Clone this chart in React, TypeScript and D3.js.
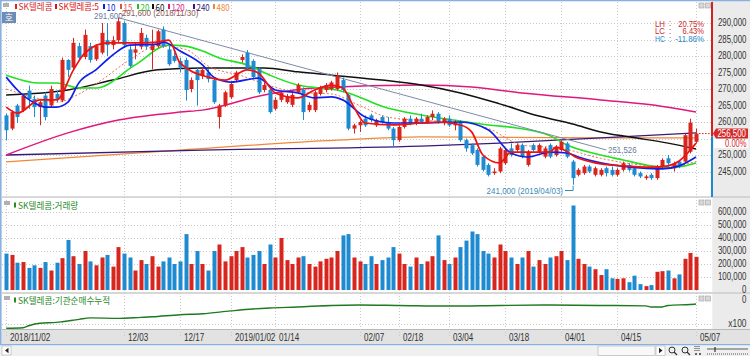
import React from "react";
import * as d3 from "d3";

// ---------- DATA (prices in thousand KRW, volume in thousand shares) ----------
const opens = [262.0,258.0,265.0,263.5,269.5,267.0,264.5,268.0,265.0,268.5,
266.5,278.8,276.5,283.0,279.7,283.0,279.0,281.0,284.8,283.3,
284.8,290.0,282.0,281.0,282.8,285.5,281.8,283.0,288.0,282.0,
280.0,278.5,278.8,270.0,275.8,274.0,275.0,272.7,261.5,265.0,
267.5,272.7,278.8,281.0,278.5,276.0,269.7,269.7,264.0,266.7,
266.0,265.2,269.0,269.7,263.6,263.6,268.5,269.7,270.0,270.0,
272.7,268.2,258.0,259.0,261.0,262.0,259.0,261.5,260.0,258.0,
254.5,258.5,261.0,259.5,261.0,260.0,261.5,262.5,260.0,261.0,
259.0,260.0,254.5,253.0,251.5,249.5,247.0,244.5,245.0,247.5,
252.0,251.5,253.0,247.0,253.0,251.0,249.5,253.0,250.0,251.5,
253.5,248.0,244.0,244.5,246.5,244.0,244.0,246.0,245.5,244.0,
245.5,247.0,246.0,244.5,243.0,244.0,243.0,246.5,249.0,246.0,
248.0,248.0,251.0,254.0];
const highs = [262.5,263.5,265.5,268.5,271.0,268.0,266.5,269.0,271.0,269.5,
279.5,279.0,285.5,284.0,288.0,284.0,283.5,290.0,290.0,286.0,
291.6,290.5,283.0,284.0,288.5,286.5,288.0,288.0,289.0,283.0,
281.0,279.5,279.5,273.5,276.5,276.5,276.0,273.5,265.5,269.5,
272.0,275.5,280.5,281.8,279.0,276.5,272.0,270.5,267.5,269.5,
268.5,268.8,271.8,270.5,266.0,269.5,271.0,271.8,272.5,275.0,
273.5,268.5,259.5,260.5,262.0,262.5,261.0,262.0,261.5,258.5,
259.0,261.5,262.0,261.5,262.5,262.0,263.5,263.0,261.5,262.0,
260.5,260.5,255.0,253.5,252.0,250.0,247.5,246.0,252.5,252.0,
253.5,253.5,253.5,251.5,253.5,253.5,252.5,253.5,253.0,254.5,
254.0,248.5,246.0,247.0,247.0,246.5,246.0,246.5,246.5,246.0,
248.0,247.5,246.5,245.0,244.0,244.5,247.0,249.0,250.0,248.0,
248.5,256.5,261.0,258.0];
const lows = [254.5,257.5,259.7,263.0,264.0,261.5,259.0,260.5,264.5,266.0,
266.0,273.6,276.0,279.0,279.0,278.0,278.5,280.5,280.0,282.0,
284.0,283.0,276.5,279.0,282.0,282.0,276.0,282.5,282.5,277.0,
278.0,275.0,266.5,269.0,265.0,273.0,272.0,265.5,258.0,264.5,
267.0,272.0,278.0,276.0,273.0,268.5,269.0,262.5,263.5,266.0,
265.5,264.5,268.5,260.6,263.0,263.0,268.0,269.0,269.5,269.5,
269.0,257.5,256.5,257.0,258.5,260.0,258.5,259.5,257.5,252.5,
254.0,258.0,259.0,259.0,259.5,259.5,260.5,259.5,259.0,258.5,
257.5,254.0,251.0,250.0,246.5,245.0,243.5,244.0,244.5,247.0,
249.5,251.0,249.0,246.5,251.0,250.5,249.0,249.0,249.5,251.0,
249.0,241.0,243.5,244.0,244.5,243.5,243.5,243.5,243.5,243.5,
245.0,245.0,243.5,243.0,242.5,242.5,242.5,246.0,247.0,245.0,
246.0,247.5,250.5,253.5];
const closes = [257.5,263.0,261.5,268.0,267.0,264.5,266.0,261.5,270.0,267.0,
278.8,275.8,284.0,279.5,286.4,278.8,283.0,287.0,283.3,284.8,
290.5,283.3,277.0,282.0,287.0,282.8,283.3,287.5,283.0,277.5,
278.5,276.5,269.7,272.7,272.7,275.8,273.0,266.0,265.0,269.0,
271.5,275.0,279.7,276.3,273.6,269.0,271.2,263.0,266.7,268.8,
267.8,268.2,271.2,263.0,265.2,269.0,270.5,271.2,272.0,274.0,
269.7,258.0,259.0,260.0,259.0,260.6,260.6,260.0,258.0,254.5,
258.5,261.0,259.5,261.0,260.0,261.5,262.5,260.0,261.0,259.0,
260.0,254.5,252.0,250.5,247.0,245.5,244.0,245.0,252.0,251.5,
250.0,253.0,249.5,251.0,251.5,253.0,252.0,249.5,252.5,254.0,
249.5,243.0,245.5,246.5,245.0,246.0,245.5,244.5,244.0,245.5,
247.5,245.5,244.0,243.5,243.5,243.0,246.5,248.5,247.5,247.5,
246.5,256.0,259.8,256.5];
const volumes = [280,270,210,215,170,190,170,215,150,210,
245,385,260,200,300,220,190,250,270,180,
330,280,250,150,230,200,260,180,220,250,
200,220,430,200,300,200,150,300,350,220,
260,300,330,250,270,300,200,350,250,400,
230,200,250,260,200,180,220,240,250,300,
420,430,250,220,200,260,200,230,250,330,
280,200,180,250,200,220,260,420,230,200,
250,330,380,450,430,300,280,250,350,300,
250,200,250,300,180,230,200,250,260,300,
230,650,240,200,180,160,115,160,90,85,
90,60,110,45,30,38,140,145,150,90,
120,240,285,255];

// moving averages: [candle index, price]
const ma5: [number, number][] = [[0,264.5],[2,262.7],[6,266.7],[9,266.7],[12,275.8],[14,280.9],[18,284],[24,284],[27,284.2],[29,284.8],[31,277.9],[36,273.6],[39,272.7],[43,275.8],[45,274.8],[48,268.8],[52,267.3],[55,269.7],[58,271.2],[60,270.3],[62,264.5],[64,259.7],[69,259.1],[74,259.7],[77,260],[81,259.1],[83,257.0],[85,250],[88,247.6],[90,250.9],[97,250.9],[98,252.4],[102,249],[105,247.6],[110,246.7],[115,246.3],[118,246.7],[120,248.2],[122,251.5],[123,253.6]];
const ma10: [number, number][] = [[0,273.6],[2,269.7],[5,265.8],[7,264.5],[9,264.5],[11,266.0],[13,272.0],[16,275.8],[19,280.3],[22,283.3],[27,283.6],[28,284.2],[31,281.5],[35,277.3],[37,273.6],[40,272.1],[45,273.3],[48,269.7],[52,268.8],[55,267.3],[58,267.6],[60,266.7],[64,261.5],[69,259.7],[74,259.7],[81,260.0],[86,257.6],[90,250.6],[93,249.4],[97,250.9],[100,250.6],[102,249.4],[106,247.6],[113,246.1],[117,245.8],[120,246.7],[123,249.4]];
const ma15: [number, number][] = [[0,270],[6,267],[9,266],[13,268.5],[17,272.7],[22,278.8],[27,283],[32,282],[36,277],[42,274],[47,271],[52,269],[58,268.5],[63,265],[68,261.5],[74,260.5],[81,260],[86,258],[92,253],[99,252],[106,249],[113,247],[118,246.5],[123,248]];
const ma20: [number, number][] = [[0,274.2],[6,271.8],[9,271.8],[13,270.3],[16,270.3],[23,277.3],[29,283.3],[32,283.0],[35,281.5],[38,279.4],[43,277.3],[47,274.2],[52,271.2],[56,270.3],[59,269.7],[62,268.2],[67,264.8],[74,262.1],[81,260.3],[86,259.1],[91,258.2],[97,255.8],[100,253.0],[106,250.0],[110,248.5],[115,246.7],[118,246.1],[121,246.7],[123,247.6]];
const ma60: [number, number][] = [[0,268.2],[11,269.7],[19,272.7],[27,275.8],[35,276.4],[46,276.4],[52,275.2],[58,274.2],[67,272.7],[74,271.2],[81,268.8],[88,265.5],[95,261.8],[101,259.4],[106,257.0],[111,255.5],[118,253.6],[123,251.8]];
const ma120: [number, number][] = [[0,250.0],[11,256.7],[20,260.6],[31,263.0],[35,263.6],[46,268.2],[55,270.3],[74,271.2],[83,270.6],[92,268.8],[106,266.7],[115,265.2],[123,263.0]];
const ma240: [number, number][] = [[0,250.0],[35,251.5],[74,252.7],[88,253.6],[106,255.2],[123,256.7]];
const ma480: [number, number][] = [[0,247.9],[31,251.5],[59,254.5],[74,255.5],[106,255.2],[123,255.2]];

// institutional cumulative net buying (x100 shares)
const inst: [number, number][] = [[0,-1010],[3,-990],[4,-920],[6,-830],[9,-800],[10,-775],[13,-690],[15,-640],[20,-655],[24,-620],[26,-600],[31,-525],[35,-490],[40,-390],[44,-320],[47,-285],[52,-250],[58,-195],[63,-180],[70,-195],[79,-215],[88,-195],[97,-180],[106,-195],[114,-210],[115,-250],[117,-250],[118,-195],[122,-160],[123,-145]];

const tickIdx = [0,21,31,40,48,63,70,79,89,99,109,123];
const tickLabels = ["2018/11/02","12/03","12/17","2019/01/02","01/14","02/07","02/18","03/04","03/18","04/01","04/15","05/07"];
const priceTicks = [290,285,280,275,270,265,260,255,250,245];
const priceLabelTicks = [290,285,280,275,270,265,260,250,245];
const volTicks = [600,500,400,300,200,100,0];

const trend: [number, number][] = [[20,291.6],[107,251.526]];
const lastPrice = 256.5;
const legend = [
  { t: "SK텔레콤", c: "#d8261f" },
  { t: "SK텔레콤:5", c: "#e01010" },
  { t: "10", c: "#1020e0" },
  { t: "15", c: "#e05040" },
  { t: "20", c: "#22c022" },
  { t: "60", c: "#111111" },
  { t: "120", c: "#e0187c" },
  { t: "240", c: "#3a1a78" },
  { t: "480", c: "#f08838" },
];
const legendX = [15, 55, 103, 120, 137, 152, 168, 193, 213];

const UP = "#d8261f";
const DN = "#1e8bd1";
const F_NUM = "'Liberation Sans', Arial, sans-serif";
const F_KR = "'Noto Sans CJK KR', 'Noto Sans', sans-serif";

function textW(s: string): number {
  let w = 0;
  for (const ch of s) {
    if (/[0-9]/.test(ch)) w += 4.4;
    else if (ch === "," || ch === "." || ch === ":") w += 2.2;
    else if (ch === "/" || ch === "(" || ch === ")") w += 2.6;
    else if (ch === "%") w += 6;
    else if (ch === " ") w += 2.4;
    else if (ch === "-") w += 3;
    else if (/[A-Za-z]/.test(ch)) w += 5;
    else w += 8;
  }
  return w;
}

let _ctx: CanvasRenderingContext2D | null = null;
function measure(s: string, size: number, font: string): number {
  if (!_ctx) _ctx = document.createElement("canvas").getContext("2d");
  if (!_ctx) return textW(s);
  _ctx.font = `${size}px ${font}`;
  return _ctx.measureText(s).width || textW(s);
}

function T(p: { x: number; y: number; s: string; fill?: string; anchor?: string; size?: number; font?: string }) {
  const size = p.size ?? 10;
  const font = p.font ?? F_NUM;
  const target = textW(p.s);
  const nat = measure(p.s, size, font);
  const sx = Math.min(1.2, target / nat);
  return (
    <text transform={`translate(${p.x},${p.y}) scale(${sx.toFixed(3)},1)`} x={0} y={0} fill={p.fill ?? "#333"} fontSize={size} fontFamily={font}
      textAnchor={(p.anchor as any) ?? "start"} dominantBaseline="central">{p.s}</text>
  );
}

const fmt = (v: number) => d3.format(",")(Math.round(v * 1000));

export default function App() {
  const x = d3.scaleLinear().domain([0, 123]).range([6.2, 696]);
  const yP = d3.scaleLinear().domain([245, 290]).range([171.5, 23]);
  const yV = d3.scaleLinear().domain([0, 600]).range([290, 212]);
  const yI = d3.scaleLinear().domain([-1000, 0]).range([328, 300]);
  const pLine = (pts: [number, number][]) =>
    d3.line<[number, number]>().x((d) => x(d[0])).y((d) => yP(d[1])).curve(d3.curveMonotoneX)(pts) || "";
  const iLine =
    d3.line<[number, number]>().x((d) => x(d[0])).y((d) => yI(d[1])).curve(d3.curveMonotoneX)(inst) || "";

  const PX0 = 2, PX1 = 712;
  const grid = "#c8c8c8";
  const yLast = yP(lastPrice);

  const btns = (y: number) => (
    <g>
      <rect x={699} y={y} width={5} height={5} fill="#d8d8d8" stroke="#a0a0a0" strokeWidth={0.6} />
      <rect x={705.5} y={y} width={5} height={5} fill="#d8d8d8" stroke="#a0a0a0" strokeWidth={0.6} />
    </g>
  );

  const lo = lows[101];

  return (
    <svg width={750} height={356} style={{ position: "fixed", left: 0, top: 0, background: "#f0f0f0" }}>
      <defs>
        <clipPath id="pc"><rect x={PX0} y={2} width={PX1 - PX0} height={194} /></clipPath>
        <clipPath id="vc"><rect x={PX0} y={198} width={PX1 - PX0} height={94} /></clipPath>
      </defs>
      {/* frame */}
      <rect x={0} y={0} width={750} height={356} fill="#f0f0f0" />
      <rect x={0} y={0} width={750} height={1.5} fill="#86b1e0" />
      <rect x={0} y={0} width={1.5} height={345} fill="#86b1e0" />
      <rect x={713} y={1.5} width={37} height={328} fill="#ebebeb" />
      <rect x={PX0} y={1.5} width={PX1 - PX0} height={195} fill="#fff" />
      <rect x={PX0} y={198} width={PX1 - PX0} height={94} fill="#fff" />
      <rect x={PX0} y={294} width={PX1 - PX0} height={35} fill="#fff" />
      <line x1={PX0} x2={750} y1={197} y2={197} stroke="#bdbdbd" />
      <line x1={PX0} x2={750} y1={293} y2={293} stroke="#bdbdbd" />
      <rect x={PX0} y={329} width={748} height={15} fill="#e2e2e2" />
      <line x1={PX0} x2={750} y1={329.5} y2={329.5} stroke="#b8b8b8" />
      <rect x={0} y={344} width={750} height={1.2} fill="#86b1e0" />

      {/* grid */}
      {tickIdx.map((t, k) => (
        <line key={"vg" + k} x1={Math.round(x(t)) + 0.5} x2={Math.round(x(t)) + 0.5} y1={2} y2={337} stroke={grid} strokeDasharray="1,2" />
      ))}
      {priceTicks.map((p) => (
        <line key={"pg" + p} x1={PX0} x2={PX1} y1={Math.round(yP(p)) + 0.5} y2={Math.round(yP(p)) + 0.5} stroke={grid} strokeDasharray="1,2" />
      ))}
      {volTicks.slice(0, 6).map((v) => (
        <line key={"vgl" + v} x1={PX0} x2={PX1} y1={Math.round(yV(v)) + 0.5} y2={Math.round(yV(v)) + 0.5} stroke={grid} strokeDasharray="1,2" />
      ))}
      <line x1={PX0} x2={PX1} y1={324.5} y2={324.5} stroke={grid} strokeDasharray="1,2" />

      {/* price panel */}
      <g clipPath="url(#pc)">
        {[
          { d: ma480, c: "#f08838", w: 1.3 },
          { d: ma240, c: "#3a1a78", w: 1.3 },
          { d: ma120, c: "#e0187c", w: 1.5 },
          { d: ma60, c: "#111", w: 1.5 },
          { d: ma20, c: "#22e022", w: 1.6 },
        ].map((m, k) => (
          <path key={"ma" + k} d={pLine(m.d)} fill="none" stroke={m.c} strokeWidth={m.w} />
        ))}
        <path d={pLine(ma15)} fill="none" stroke="#f07050" strokeWidth={1} strokeDasharray="2,2" />
        <path d={pLine(trend)} fill="none" stroke="#7d8aa8" strokeWidth={1} />
        {closes.map((c, i) => {
          const o = opens[i];
          const up = c >= o;
          const col = up ? UP : DN;
          const cx = Math.round(x(i)) + 0.5;
          const top = yP(Math.max(o, c));
          const bot = yP(Math.min(o, c));
          return (
            <g key={"c" + i}>
              <line x1={cx} x2={cx} y1={yP(highs[i])} y2={yP(lows[i])} stroke={col} strokeWidth={1} />
              <rect x={cx - 2} y={top} width={4} height={Math.max(1, bot - top)} fill={col} />
            </g>
          );
        })}
        <path d={pLine(ma10)} fill="none" stroke="#1020e8" strokeWidth={1.7} />
        <path d={pLine(ma5)} fill="none" stroke="#f01010" strokeWidth={1.7} />
        <line x1={x(123) + 3} x2={PX1} y1={yLast} y2={yLast} stroke="#e02020" strokeDasharray="1.5,1.5" />
        {/* low marker */}
        <line x1={x(101) + 0.5} x2={x(101) + 0.5} y1={yP(lo) + 1} y2={190.5} stroke="#3a8ab8" />
        <line x1={565} x2={x(101) + 0.5} y1={190.5} y2={190.5} stroke="#3a8ab8" />
      </g>
      <T x={563} y={190.5} s={"241,000 (2019/04/03)"} fill="#3a8ab8" anchor="end" size={9.5} />
      <T x={608} y={yP(trend[1][1])} s={"251,526"} fill="#6a7aa0" size={9.5} />
      <T x={94} y={16} s={"291,600"} fill="#6a7aa0" size={9.5} />
      <T x={119} y={12.5} s={"-291,600 (2018/11/30)"} fill="#8a5a5a" size={9.5} />

      {/* legend */}
      <rect x={3} y={3} width={6} height={4} fill="#b0b0b0" />
      {legend.map((l, k) => (
        <g key={"lg" + k}>
          <rect x={legendX[k]} y={4} width={2} height={5} fill={l.c} />
          <T x={legendX[k] + 3.5} y={6.8} s={l.t} fill={l.c} size={9} font={F_KR} />
        </g>
      ))}
      <rect x={2} y={12} width={14} height={11} fill="#6f8db4" />
      <text x={9} y={17.8} fontSize={9} fill="#fff" fontFamily={F_KR} textAnchor="middle" dominantBaseline="central">호</text>
      {btns(3)}

      {/* LH LC HC */}
      {[
        { a: "LH", v: "20.75%", c: "#d02828", y: 23.3 },
        { a: "LC", v: "6.43%", c: "#d02828", y: 31.2 },
        { a: "HC", v: "-11.86%", c: "#2a8ac8", y: 39.3 },
      ].map((r) => (
        <g key={r.a}>
          <T x={655} y={r.y} s={r.a} fill={r.c} size={9} />
          <T x={669} y={r.y} s={":"} fill={r.c} size={9} />
          <T x={704} y={r.y} s={r.v} fill={r.c} size={9} anchor="end" />
        </g>
      ))}

      {/* right axis price */}
      <rect x={711} y={2} width={2} height={yLast + 3 - 2} fill="#d42020" />
      <rect x={711} y={yLast + 3} width={2} height={197 - yLast - 3} fill="#1e8bd1" />
      {priceLabelTicks.map((p) => (
        <T key={"pl" + p} x={746.5} y={yP(p)} s={fmt(p)} anchor="end" />
      ))}
      <path d={`M713,${yLast} L716,${yLast - 5} L748,${yLast - 5} L748,${yLast + 5} L716,${yLast + 5} Z`} fill="#d42a2a" />
      <T x={746} y={yLast} s={fmt(lastPrice)} fill="#fff" anchor="end" />
      <rect x={714} y={yLast + 5.5} width={34} height={9} fill="#fff" />
      <T x={746.5} y={yLast + 10} s={"0.00%"} fill="#d42a2a" anchor="end" />

      {/* volume panel */}
      <g clipPath="url(#vc)">
        {volumes.map((v, i) => {
          const up = closes[i] >= opens[i];
          const cx = Math.round(x(i));
          return <rect key={"v" + i} x={cx - 1.5} y={yV(v)} width={4} height={yV(0) - yV(v)} fill={up ? UP : DN} />;
        })}
      </g>
      <rect x={4} y={201} width={6} height={4} fill="#b0b0b0" />
      <rect x={14} y={202.5} width={2} height={5} fill="#2a8a2a" />
      <T x={18} y={205} s={"SK텔레콤:거래량"} fill="#2a8a2a" size={9} font={F_KR} />
      {btns(200)}
      {volTicks.map((v) => (
        <T key={"vl" + v} x={746.5} y={yV(v)} s={fmt(v)} anchor="end" />
      ))}

      {/* institutional panel */}
      <path d={iLine} fill="none" stroke="#1e7a1e" strokeWidth={1.4} />
      <rect x={4} y={296} width={6} height={4} fill="#b0b0b0" />
      <rect x={14} y={297.5} width={2} height={5} fill="#2a8a2a" />
      <T x={18} y={300.3} s={"SK텔레콤:기관순매수누적"} fill="#2a8a2a" size={9} font={F_KR} />
      {btns(296)}
      <T x={746.5} y={300} s={"0"} anchor="end" />
      <T x={746.5} y={324} s={"x100"} anchor="end" />

      {/* x axis */}
      {tickIdx.map((t, k) => (
        <T key={"xl" + k} x={Math.round(x(t)) + 4} y={337.5} s={tickLabels[k]} fill="#333" />
      ))}

      {/* bottom bar */}
      <rect x={2} y={346} width={9} height={9} fill="#fff" stroke="#b0b0b0" strokeWidth={0.6} />
      <path d="M8.5,347.8 L8.5,353.2 L5,350.5 Z" fill="#222" />
      <rect x={598} y={346} width={57} height={9.5} fill="#f8f8f8" stroke="#b0b0b0" strokeWidth={0.6} />
      <rect x={656} y={346} width={9} height={9.5} fill="#fff" stroke="#b0b0b0" strokeWidth={0.6} />
      <path d="M659,347.8 L659,353.2 L662.5,350.5 Z" fill="#222" />
      <circle cx={672} cy={350} r={3} fill="none" stroke="#333" strokeWidth={1} />
      <line x1={674} y1={352} x2={677} y2={355} stroke="#333" strokeWidth={1.2} />
      <circle cx={685} cy={350} r={3} fill="none" stroke="#333" strokeWidth={1} />
      <line x1={687} y1={352} x2={690} y2={355} stroke="#333" strokeWidth={1.2} />
      <line x1={695} y1={346} x2={695} y2={351} stroke="#333" strokeDasharray="1,1" />
      <line x1={697} y1={346} x2={697} y2={351} stroke="#333" strokeDasharray="1,1" />
      <line x1={699} y1={346} x2={699} y2={351} stroke="#333" strokeDasharray="1,1" />
      <circle cx={696} cy={354} r={1} fill="#333" />
      <circle cx={700} cy={354} r={1} fill="#333" />
      <line x1={707} x2={748} y1={349} y2={349} stroke="#333" strokeWidth={0.8} />
      <line x1={715} x2={715} y1={347} y2={352} stroke="#333" strokeWidth={1.2} />
      <line x1={707} x2={748} y1={354} y2={354} stroke="#555" strokeDasharray="1,1" />
    </svg>
  );
}
